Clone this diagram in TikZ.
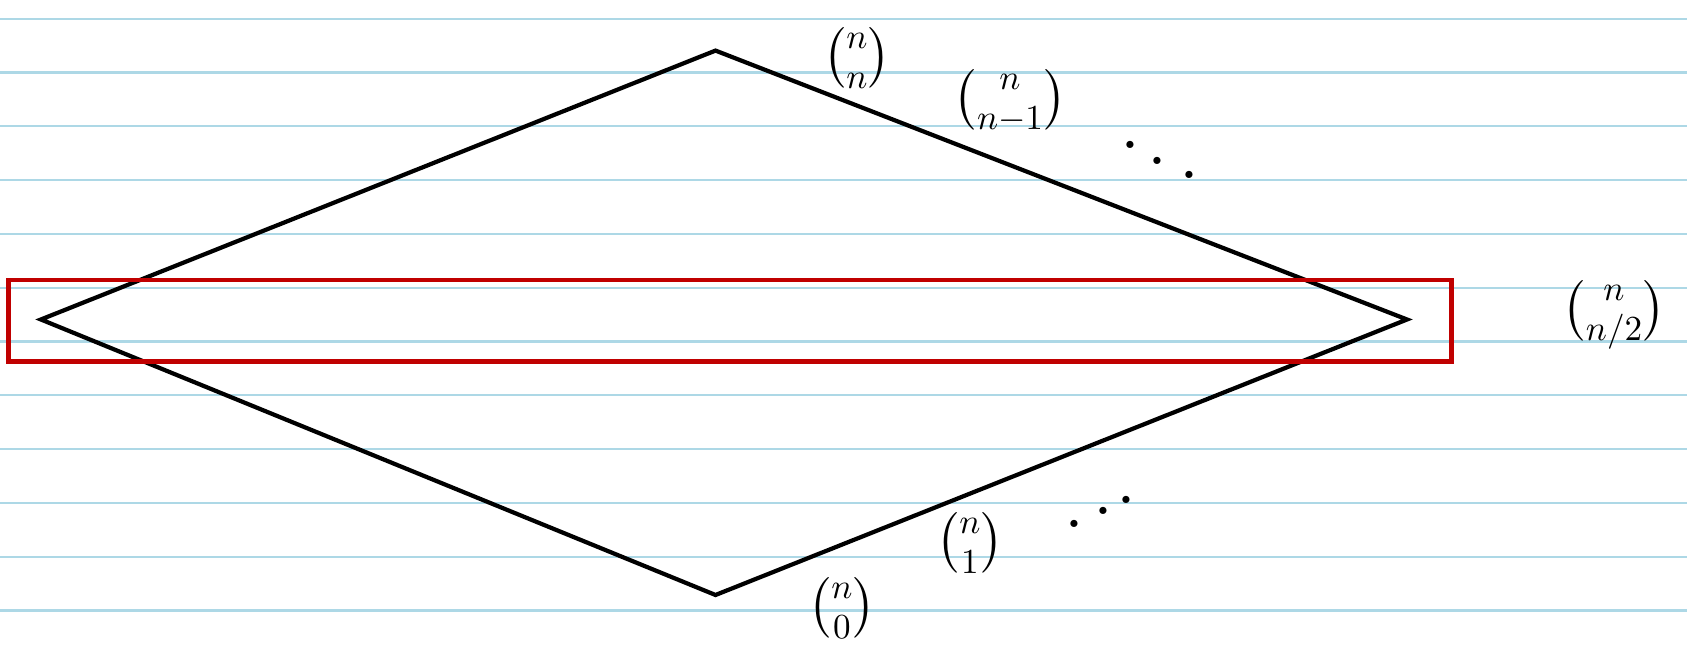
\documentclass[tikz,border=0pt]{standalone}
\usepackage{amsmath}
\usepackage{xcolor}
\usetikzlibrary{calc}
\definecolor{inkdark}{HTML}{000000}
\definecolor{ruleline}{HTML}{ADD8E6}
\definecolor{bandline}{HTML}{C00000}
\tikzset{
  ruled/.style={line width=0.6pt, ruleline},
  lattice/.style={line width=1.2pt, inkdark, line join=miter},
  band/.style={line width=1.2pt, bandline},
  binlab/.style={font=\Large, text=inkdark, inner sep=0pt},
  dotmark/.style={font=\Huge, text=inkdark, inner sep=0pt},
}
\begin{document}
\begin{tikzpicture}

\useasboundingbox (0,0) rectangle (16.87,6.56);
\fill[white] (0,0) rectangle (16.87,6.56);

% ── notebook rules ──────────────────────────────────────────────
\foreach \k in {0,...,11}
  \draw[ruled] (0,6.373-0.538*\k) -- (16.87,6.373-0.538*\k);

% ── diamond ─────────────────────────────────────────────────────
\coordinate (top)    at (7.155, 6.054);
\coordinate (left)   at (0.409, 3.365);
\coordinate (right)  at (14.07, 3.365);
\coordinate (bottom) at (7.155, 0.610);
\draw[lattice] (top) -- (right) -- (bottom) -- (left) -- cycle;

% ── middle band ─────────────────────────────────────────────────
\coordinate (bandsw) at (0.086, 2.945);
\coordinate (bandne) at (14.514, 3.763);
\draw[band] (bandsw) rectangle (bandne);

% ── binomial labels ─────────────────────────────────────────────
\node[binlab] (cnn)  at (8.57, 5.98) {$\binom{n}{n}$};
\node[binlab] (cnn1) at (10.10, 5.55) {$\binom{n}{n-1}$};
\node[binlab] (cnh)  at (16.14, 3.41) {$\binom{n}{n/2}$};
\node[binlab] (cn1)  at (9.70, 1.13) {$\binom{n}{1}$};
\node[binlab] (cn0)  at (8.42, 0.48) {$\binom{n}{0}$};

% ── dots along the edges ────────────────────────────────────────
\foreach \x/\y [count=\i] in {11.30/5.11, 11.57/4.95, 11.89/4.81}
  \node[dotmark] (updot\i) at (\x,\y) {.};
\foreach \x/\y [count=\i] in {10.74/1.32, 11.03/1.45, 11.26/1.56}
  \node[dotmark] (lodot\i) at (\x,\y) {.};

\end{tikzpicture}
\end{document}
